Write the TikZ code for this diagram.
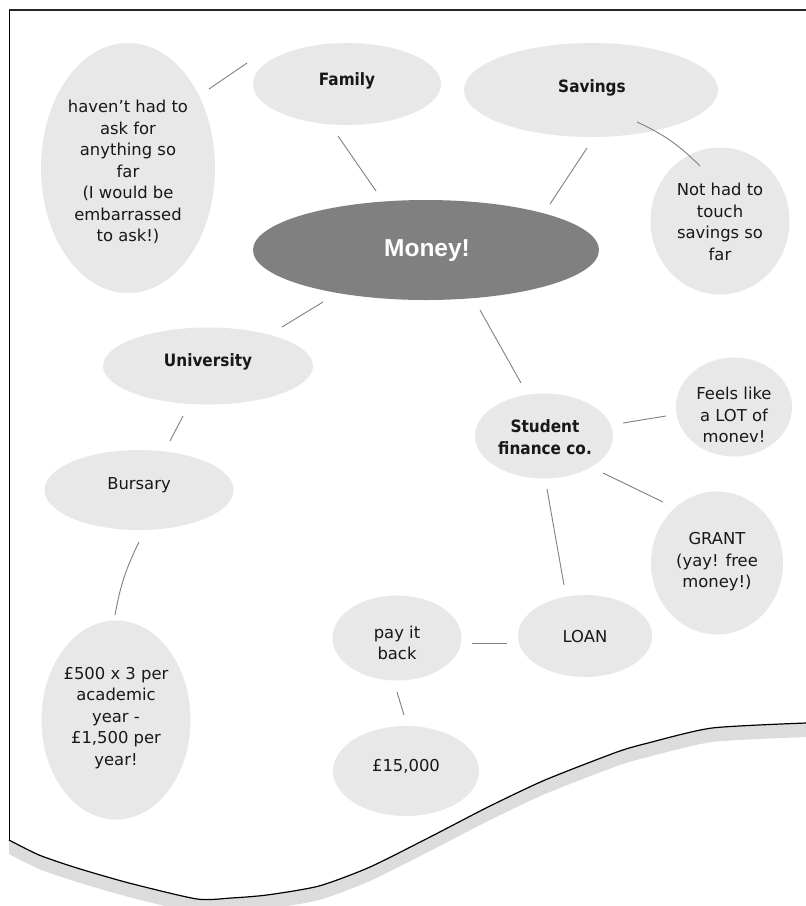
\documentclass[tikz,border=0pt]{standalone}
\usepackage{fontspec}
\setmainfont{DejaVu Sans}
\newfontfamily\headfont{Liberation Sans}
\newfontfamily\narrowfont[FakeStretch=0.9]{DejaVu Sans}
\usetikzlibrary{shapes.geometric}

\definecolor{bubblefill}{RGB}{232,232,232}
\definecolor{hubfill}{RGB}{128,128,128}
\definecolor{linkgray}{RGB}{128,128,128}
\definecolor{shadowgray}{RGB}{220,220,220}
\definecolor{inkgray}{RGB}{24,24,24}

\begin{document}
\begin{tikzpicture}[x=1pt,y=-1pt,
  bubble/.style={ellipse, fill=bubblefill, draw=none, inner sep=0pt},
  hub/.style={ellipse, fill=hubfill, draw=none, inner sep=0pt},
  txt/.style={align=center, inner sep=0pt, text=inkgray,
    font=\fontsize{16.4}{21.5}\selectfont},
  boldtxt/.style={txt, font=\narrowfont\fontsize{17}{22.5}\selectfont\bfseries},
  hubtxt/.style={inner sep=0pt, text=white,
    font=\headfont\fontsize{24.5}{28}\selectfont\bfseries},
  link/.style={draw=linkgray, line width=0.9pt},
]
\useasboundingbox (0,0) rectangle (806,906);
\fill[white] (0,0) rectangle (806,906);

% torn sheet: shadow, paper, outline
\def\tornedge{(806,723) (712,728) (648,743) (617,752) (545,780) (488,807)
  (432,836) (370,867) (319,886) (267,895) (231,898) (197,899) (129,883)
  (77,868) (39,855) (9,840)}
\begin{scope}[shift={(0,14)}]
  \fill[shadowgray] (9,10) -- (806,10) -- (806,723)
    -- plot[smooth, tension=0.4] coordinates {\tornedge} -- cycle;
\end{scope}
\fill[white] (9,10) -- (806,10) -- (806,723)
  -- plot[smooth, tension=0.4] coordinates {\tornedge} -- cycle;
\draw[black!85, line width=1.3pt] (806,10) -- (9,10);
\draw[black, line width=1pt] (9,10) -- (9,840);
\draw[black, line width=1.2pt, line join=round]
  plot[smooth, tension=0.4] coordinates {\tornedge};

% bubbles
\node[hub, minimum width=346pt, minimum height=100pt] (mon) at (426,250) {};
\node[bubble, minimum width=188pt, minimum height=82pt] (fam) at (347,84) {};
\node[bubble, minimum width=254pt, minimum height=94pt] (sav) at (591,90) {};
\node[bubble, minimum width=174pt, minimum height=250pt] (hv) at (128,168) {};
\node[bubble, minimum width=139pt, minimum height=147pt] (nht) at (720,221) {};
\node[bubble, minimum width=210pt, minimum height=77pt] (uni) at (208,366) {};
\node[bubble, minimum width=189pt, minimum height=80pt] (bur) at (139,490) {};
\node[bubble, minimum width=149pt, minimum height=199pt] (f500) at (116,720) {};
\node[bubble, minimum width=138pt, minimum height=85pt] (sfc) at (544,436) {};
\node[bubble, minimum width=116pt, minimum height=99pt] (feels) at (734,407) {};
\node[bubble, minimum width=132pt, minimum height=143pt] (grant) at (717,563) {};
\node[bubble, minimum width=134pt, minimum height=82pt] (loan) at (585,636) {};
\node[bubble, minimum width=129pt, minimum height=85pt] (pay) at (397,638) {};
\node[bubble, minimum width=146pt, minimum height=90pt] (f15) at (406,771) {};

% labels
\node[hubtxt] (mon-t) at (427,251) {Money!};
\node[boldtxt] (fam-t) at (347,81) {Family};
\node[boldtxt] (sav-t) at (592,88) {Savings};
\node[boldtxt] (uni-t) at (208,362) {University};
\node[boldtxt] (sfc-t) at (545,437) {Student\\finance co.};
\node[txt] (hv-t) at (128,172) {haven’t had to\\ask for\\anything so\\far\\(I would be\\embarrassed\\to ask!)};
\node[txt] (nht-t) at (720,222) {Not had to\\touch\\savings so\\far};
\node[txt] (bur-t) at (139,485) {Bursary};
\node[txt] (f500-t) at (116,718) {£500 x 3 per\\academic\\year -\\£1,500 per\\year!};
\node[txt] (feels-t) at (734,415) {Feels like\\a LOT of\\monev!};
\node[txt] (grant-t) at (717,562) {GRANT\\(yay! free\\money!)};
\node[txt] (loan-t) at (585,637) {LOAN};
\node[txt] (pay-t) at (397,643) {pay it\\back};
\node[txt] (f15-t) at (406,766) {£15,000};

% connectors
\draw[link] ([shift={(81,-79)}]hv.center) -- ([shift={(-100,-21)}]fam.center);
\draw[link] ([shift={(-9,52)}]fam.center) -- ([shift={(-50,-59)}]mon.center);
\draw[link] ([shift={(-4,58)}]sav.center) -- ([shift={(124,-46)}]mon.center);
\draw[link] ([shift={(46,32)}]sav.center) to[bend left=10] ([shift={(-20,-55)}]nht.center);
\draw[link] ([shift={(-103,52)}]mon.center) -- ([shift={(74,-39)}]uni.center);
\draw[link] ([shift={(-25,50)}]uni.center) -- ([shift={(31,-49)}]bur.center);
\draw[link] ([shift={(0,52)}]bur.center) to[bend right=8] ([shift={(-1,-105)}]f500.center);
\draw[link] ([shift={(54,60)}]mon.center) -- ([shift={(-23,-53)}]sfc.center);
\draw[link] ([shift={(79,-13)}]sfc.center) -- ([shift={(-68,9)}]feels.center);
\draw[link] ([shift={(59,37)}]sfc.center) -- ([shift={(-54,-61)}]grant.center);
\draw[link] ([shift={(3,53)}]sfc.center) -- ([shift={(-21,-51)}]loan.center);
\draw[link] ([shift={(75,5)}]pay.center) -- ([shift={(-78,7)}]loan.center);
\draw[link] ([shift={(0,54)}]pay.center) -- ([shift={(-2,-56)}]f15.center);
\end{tikzpicture}
\end{document}
